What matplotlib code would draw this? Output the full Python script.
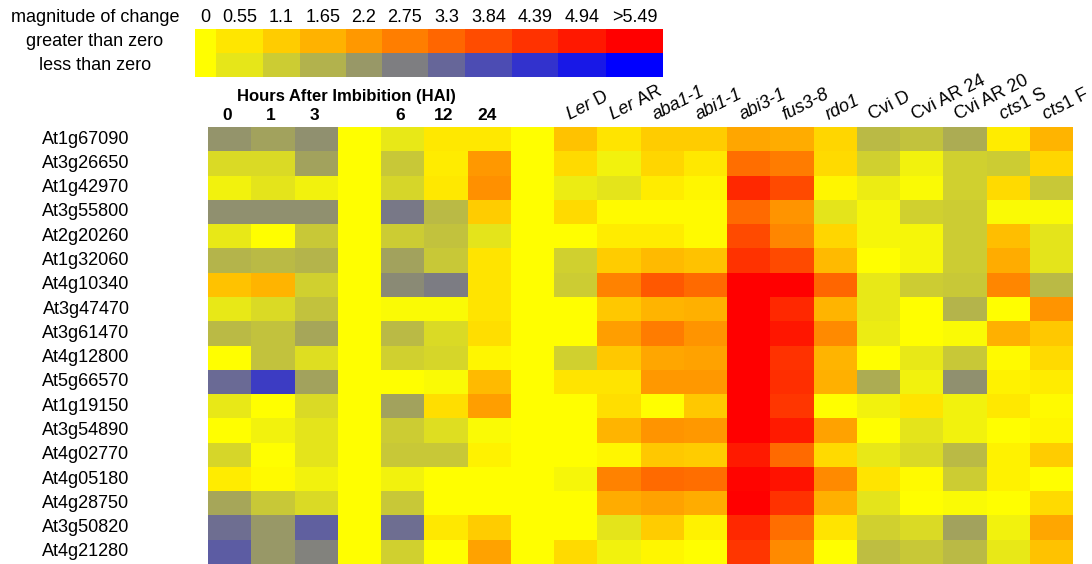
import matplotlib.pyplot as plt
import numpy as np
from matplotlib.colors import LinearSegmentedColormap, Normalize
from matplotlib.transforms import blended_transform_factory

plt.rcParams['font.family'] = ['Liberation Sans', 'DejaVu Sans']
plt.rcParams['mathtext.fontset'] = 'custom'
plt.rcParams['mathtext.rm'] = 'Liberation Sans'
plt.rcParams['mathtext.it'] = 'Liberation Sans:italic'

# Data
genes = ['At1g67090', 'At3g26650', 'At1g42970', 'At3g55800', 'At2g20260', 'At1g32060',
         'At4g10340', 'At3g47470', 'At3g61470', 'At4g12800', 'At5g66570', 'At1g19150',
         'At3g54890', 'At4g02770', 'At4g05180', 'At4g28750', 'At3g50820', 'At4g21280']

hai_labels = ['0', '1', '3', '6', '12', '24']
# positive = greater than zero, negative = less than zero
hai_values = np.array([
    [-2.3, -2.0, -2.4, -0.5, 0.5, 0.5],
    [-0.8, -0.8, -2.0, -1.2, 0.4, 2.2],
    [-0.3, -0.6, -0.3, -0.9, 0.5, 2.4],
    [-2.4, -2.4, -2.4, -2.9, -1.5, 1.1],
    [-0.5, 0.0, -1.2, -1.1, -1.3, -0.6],
    [-1.6, -1.5, -1.6, -2.0, -1.2, 0.6],
    [1.3, 1.6, -1.0, -2.5, -2.8, 0.6],
    [-0.5, -0.8, -1.3, -0.1, -0.1, 0.6],
    [-1.5, -1.3, -1.9, -1.5, -0.8, 0.7],
    [0.0, -1.3, -0.7, -1.0, -0.9, 0.2],
    [-3.2, -4.2, -2.0, 0.0, -0.1, 1.5],
    [-0.5, 0.0, -0.8, -2.0, 0.7, 2.1],
    [0.0, -0.3, -0.6, -1.1, -0.7, -0.1],
    [-0.9, 0.0, -0.6, -1.2, -1.2, 0.3],
    [0.4, 0.1, -0.3, -0.3, 0.0, 0.0],
    [-1.9, -1.2, -0.8, -1.2, 0.0, 0.0],
    [-3.1, -2.2, -3.4, -3.1, 0.5, 1.1],
    [-3.5, -2.2, -2.7, -1.0, 0.0, 2.0],
])

line_labels = [r'$\it{Ler}$ D', r'$\it{Ler}$ AR', 'aba1-1', 'abi1-1', 'abi3-1', 'fus3-8',
               'rdo1', 'Cvi D', 'Cvi AR 24', 'Cvi AR 20', r'$\it{cts1}$ S', r'$\it{cts1}$ F']
line_italic = [False, False, True, True, True, True, True, False, False, False, False, False]
line_values = np.array([
    [1.3, 0.6, 1.1, 1.1, 1.9, 1.8, 0.9, -1.5, -1.3, -1.8, 0.4, 1.6],
    [0.8, -0.3, 0.9, 0.5, 3.1, 2.8, 0.8, -1.0, -0.3, -1.0, -1.1, 0.9],
    [-0.4, -0.6, 0.4, 0.2, 4.6, 3.9, 0.2, -0.4, -0.1, -1.0, 0.8, -1.2],
    [0.8, 0.1, 0.1, 0.1, 3.2, 2.3, -0.6, -0.2, -1.0, -1.1, -0.1, -0.1],
    [0.0, 0.4, 0.4, 0.1, 3.9, 2.6, 0.9, -0.2, -0.2, -1.1, 1.4, -0.6],
    [-1.0, 1.1, 1.5, 1.3, 4.4, 3.9, 1.5, 0.0, -0.2, -1.1, 1.8, -0.6],
    [-1.1, 2.7, 3.6, 3.2, 5.5, 5.5, 3.3, -0.5, -1.1, -1.2, 2.6, -1.5],
    [0.0, 1.2, 1.6, 1.7, 5.5, 4.6, 1.6, -0.5, 0.0, -1.6, 0.0, 2.3],
    [0.0, 2.1, 2.8, 2.3, 5.5, 5.0, 2.5, -0.4, 0.0, -0.1, 1.7, 1.2],
    [-1.0, 1.2, 1.9, 2.0, 5.5, 4.4, 1.6, 0.0, -0.5, -1.2, 0.1, 0.8],
    [0.6, 0.6, 2.2, 2.2, 5.5, 4.5, 1.7, -1.8, -0.3, -2.4, 0.3, 0.4],
    [0.0, 0.7, 0.0, 1.2, 5.5, 4.3, 0.0, -0.3, 0.6, -0.3, 0.5, 0.1],
    [0.0, 1.6, 2.3, 2.2, 5.5, 4.9, 2.0, 0.0, -0.6, -0.3, 0.0, 0.2],
    [0.0, 0.2, 1.2, 1.1, 4.9, 3.2, 0.8, -0.5, -0.8, -1.5, 0.3, 1.1],
    [-0.2, 2.7, 3.2, 3.1, 5.4, 5.1, 2.5, 0.6, 0.1, -1.1, 0.3, 0.0],
    [0.0, 1.8, 2.0, 1.8, 5.5, 4.4, 1.7, -0.6, 0.0, -0.1, 0.0, 0.8],
    [0.0, -0.6, 1.1, 0.3, 4.6, 3.1, 0.6, -1.0, -0.8, -2.0, -0.3, 1.9],
    [0.8, -0.3, 0.2, 0.0, 4.3, 2.5, 0.0, -1.4, -1.2, -1.5, -0.5, 1.3],
])

legend_levels = [0, 0.55, 1.1, 1.65, 2.2, 2.75, 3.3, 3.84, 4.39, 4.94, 5.49]
legend_texts = ['0', '0.55', '1.1', '1.65', '2.2', '2.75', '3.3', '3.84', '4.39', '4.94', '>5.49']

# blue - gray - yellow - red
cmap = LinearSegmentedColormap.from_list(
    'change', [(0.0, (0, 0, 1)), (0.25, (0.5, 0.5, 0.5)), (0.5, (1, 1, 0)), (1.0, (1, 0, 0))])
norm = Normalize(vmin=-5.49, vmax=5.49)

W, H = 1092, 564
fig = plt.figure(figsize=(W / 100, H / 100), dpi=100)

# heatmap: 3 early HAI, blank, 3 late HAI, blank, 12 lines
blank = np.zeros((len(genes), 1))
matrix = np.hstack([hai_values[:, :3], blank, hai_values[:, 3:], blank, line_values])
hai_cols = [0, 1, 2, 4, 5, 6]
line_cols = list(range(8, 8 + len(line_labels)))

ax = fig.add_axes([208 / W, 0, 865 / W, 437 / H])
ax.pcolormesh(matrix, cmap=cmap, norm=norm)
ax.set_xlim(0, matrix.shape[1])
ax.set_ylim(len(genes), 0)
ax.axis('off')

tr = blended_transform_factory(fig.transFigure, ax.transData)
for i, g in enumerate(genes):
    ax.text(86 / W, i + 0.5, g, transform=tr, ha='center', va='center', fontsize=13)

tc = blended_transform_factory(ax.transData, fig.transFigure)
ax.text(3.2, 1 - 96 / H, 'Hours After Imbibition (HAI)', transform=tc, ha='center',
        va='center', fontsize=12, fontweight='bold')
for c, lab in zip(hai_cols, hai_labels):
    ax.text(c + 0.45, 1 - 116 / H, lab, transform=tc, ha='center', va='center',
            fontsize=12.5, fontweight='bold')
for c, lab, it in zip(line_cols, line_labels, line_italic):
    ax.text(c + 0.35, 1 - 120 / H, lab, transform=tc, ha='left', va='baseline',
            rotation=27, rotation_mode='anchor', fontsize=13,
            fontstyle='italic' if it else 'normal')

# legend
edges = [195, 216, 263, 300, 346, 382, 428, 465, 512, 558, 606, 663]
lax = fig.add_axes([195 / W, 1 - 77 / H, 468 / W, 48 / H])
leg = np.array([legend_levels, [-v for v in legend_levels]])
lax.pcolormesh(edges, [0, 1, 2], leg, cmap=cmap, norm=norm)
lax.set_xlim(edges[0], edges[-1])
lax.set_ylim(2, 0)
lax.axis('off')
for k, t in enumerate(legend_texts):
    xc = (edges[k] + edges[k + 1]) / 2
    fig.text(xc / W, 1 - 18 / H, t, ha='center', va='center', fontsize=13)

fig.text(95 / W, 1 - 18 / H, 'magnitude of change', ha='center', va='center', fontsize=13)
fig.text(95 / W, 1 - 42 / H, 'greater than zero', ha='center', va='center', fontsize=13)
fig.text(95 / W, 1 - 66 / H, 'less than zero', ha='center', va='center', fontsize=13)

fig.savefig('out.png', dpi=100)
